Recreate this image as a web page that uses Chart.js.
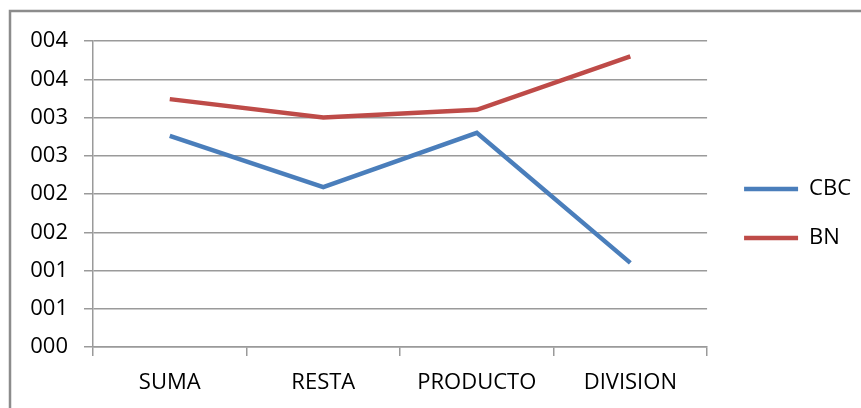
<!DOCTYPE html>
<html>
<head>
<meta charset="utf-8">
<script src="https://cdn.jsdelivr.net/npm/chart.js@4/dist/chart.umd.min.js"></script>
<style>
  html, body { margin: 0; padding: 0; background: #ffffff; }
  #wrap { position: relative; width: 861px; height: 408px; }
</style>
</head>
<body>
<div id="wrap"><canvas id="c" width="861" height="408"></canvas></div>
<script>
const categories = ["SUMA", "RESTA", "PRODUCTO", "DIVISION"];
const cbcValues = [2.76, 2.09, 2.80, 1.10];
const bnValues = [3.24, 3.00, 3.10, 3.80];
const yTickLabels = ["000", "001", "001", "002", "002", "003", "003", "004", "004"];

const FONT = "'Open Sans', 'DejaVu Sans', sans-serif";
const GRID = "#9a9a9a";

const frame = {
  id: "frame",
  afterLayout(chart) {
    const lg = chart.legend;
    if (lg) {
      lg.left += 10; lg.right += 10;
      lg.top -= 11; lg.bottom -= 11;
    }
  },
  afterDraw(chart) {
    const ctx = chart.ctx;
    ctx.save();
    ctx.strokeStyle = "#8c8c8c";
    ctx.lineWidth = 2.5;
    ctx.beginPath();
    ctx.moveTo(10, 408);
    ctx.lineTo(10, 11);
    ctx.lineTo(861, 11);
    ctx.stroke();
    ctx.restore();
  }
};

new Chart(document.getElementById("c"), {
  type: "line",
  data: {
    labels: categories,
    datasets: [
      { label: "CBC", data: cbcValues, borderColor: "#4a7ebb", backgroundColor: "#4a7ebb", borderWidth: 4.5, pointRadius: 0, tension: 0 },
      { label: "BN", data: bnValues, borderColor: "#be4b48", backgroundColor: "#be4b48", borderWidth: 4.5, pointRadius: 0, tension: 0 }
    ]
  },
  options: {
    responsive: false,
    animation: false,
    layout: { padding: { left: 0, top: 41, right: 10, bottom: 0 } },
    plugins: {
      tooltip: { enabled: false },
      legend: {
        position: "right",
        align: "center",
        labels: {
          color: "#000000",
          font: { family: FONT, size: 22 },
          usePointStyle: true,
          pointStyle: "line",
          pointStyleWidth: 54,
          boxHeight: 8,
          padding: 27
        }
      }
    },
    scales: {
      x: {
        offset: true,
        grid: { offset: true, drawOnChartArea: false, drawTicks: true, tickLength: 9, color: GRID, lineWidth: 1.5 },
        border: { display: true, color: GRID, width: 1.5 },
        ticks: { color: "#000000", font: { family: FONT, size: 22 }, padding: 14, maxRotation: 0 },
        afterFit(scale) { scale.height = 61; }
      },
      y: {
        min: 0,
        max: 4,
        grid: { color: GRID, lineWidth: 1.5, drawTicks: true, tickLength: 9 },
        border: { display: true, color: GRID, width: 1.5 },
        ticks: {
          stepSize: 0.5,
          color: "#000000",
          font: { family: FONT, size: 22 },
          padding: 16,
          callback: (v, i) => yTickLabels[i]
        },
        afterFit(scale) { scale.width = 93; }
      }
    }
  },
  plugins: [frame]
});
</script>
</body>
</html>
